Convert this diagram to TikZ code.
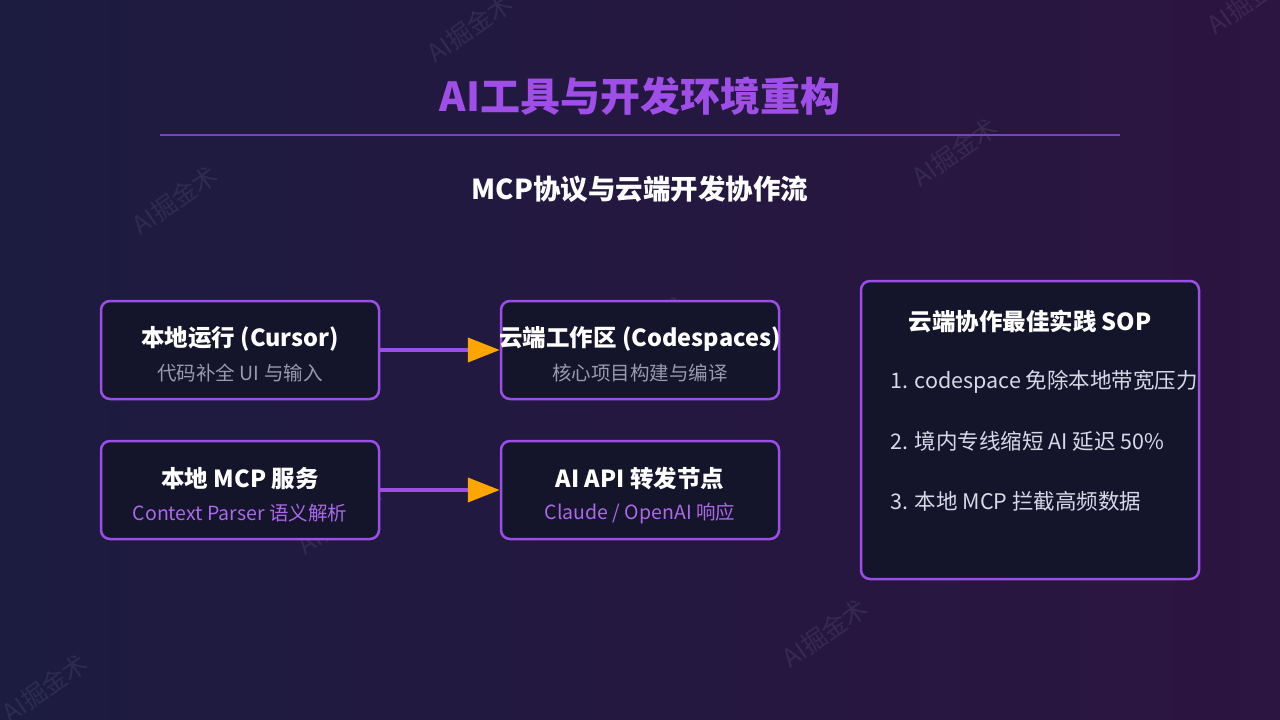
\documentclass[tikz,border=0pt]{standalone}
\usepackage{fontspec}
\setmainfont{Noto Sans CJK SC}
\usetikzlibrary{arrows.meta}
\definecolor{bgl}{HTML}{1C1B40}
\definecolor{bgr}{HTML}{2C1540}
\definecolor{boxf}{HTML}{14142A}
\definecolor{pur}{HTML}{9B4FE6}
\definecolor{ttl}{HTML}{A04EE8}
\definecolor{orn}{HTML}{FFA500}
\definecolor{subg}{HTML}{9A9AAE}
\definecolor{itm}{HTML}{D8D8E8}
\begin{document}
\begin{tikzpicture}[x=1pt,y=-1pt,
  box/.style={draw=pur,line width=2.5pt,fill=boxf,rounded corners=9pt,minimum width=278pt,minimum height=98pt,inner sep=0pt},
  hd/.style={text=white,font=\bfseries\fontsize{23.5}{26}\selectfont},
  sb/.style={text=subg,font=\fontsize{19.5}{22}\selectfont},
  sbp/.style={text=pur!85!white,font=\fontsize{19.5}{22}\selectfont},
  it/.style={text=itm,font=\fontsize{21.5}{24}\selectfont,anchor=west},
  wm/.style={text=white,opacity=0.08,rotate=35,font=\fontsize{25}{27}\selectfont},
  conn/.style={draw=pur,line width=4pt,-{Triangle[length=32pt,width=24pt,color=orn]}}]
\shade[left color=bgl,right color=bgr] (0,0) rectangle (1280,720);
\useasboundingbox (0,0) rectangle (1280,720);
\foreach \p/\q [count=\i] in {470/28,175/200,955/152,645/330,340/520,1125/448,825/633,45/688,1250/0}
  \node[wm] (w\i) at (\p,\q) {AI掘金术};
\node[text=ttl,font=\bfseries\fontsize{40}{44}\selectfont] (title) at (640,96) {AI工具与开发环境重构};
\coordinate (l1) at (160,135); \coordinate (l2) at (1120,135);
\draw[draw=pur!75!bgl,line width=2pt] (l1) -- (l2);
\node[text=white,font=\bfseries\fontsize{27.5}{30}\selectfont] (sub) at (640,189) {MCP协议与云端开发协作流};
\node[box] (a) at (240,350) {};
\node[box] (b) at (640,350) {};
\node[box] (c) at (240,490) {};
\node[box] (d) at (640,490) {};
\node[hd] (at) at (240,339) {本地运行 (Cursor)};
\node[sb] (as) at (240,373) {代码补全 UI 与输入};
\node[hd] (bt) at (640,339) {云端工作区 (Codespaces)};
\node[sb] (bs) at (640,373) {核心项目构建与编译};
\node[hd] (ct) at (240,479) {本地 MCP 服务};
\node[sbp] (cs) at (240,513) {Context Parser 语义解析};
\node[hd] (dt) at (640,479) {AI API 转发节点};
\node[sbp] (ds) at (640,513) {Claude / OpenAI 响应};
\draw[conn] (a.east) -- (b.west);
\draw[conn] (c.east) -- (d.west);
\node[box,minimum width=338pt,minimum height=298pt] (e) at (1030,430) {};
\node[hd] (et) at (1030,321) {云端协作最佳实践 SOP};
\node[it] (e1) at (887,382) {1. codespace 免除本地带宽压力};
\node[it] (e2) at (887,441) {2. 境内专线缩短 AI 延迟 50\%};
\node[it] (e3) at (887,501) {3. 本地 MCP 拦截高频数据};
\end{tikzpicture}
\end{document}
